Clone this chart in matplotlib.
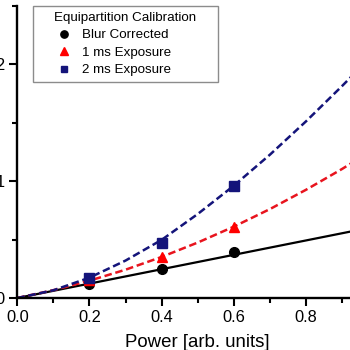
import numpy as np
import matplotlib
matplotlib.use("Agg")
import matplotlib.pyplot as plt

plt.rcParams['font.family'] = ['Liberation Sans', 'DejaVu Sans']

# measured points
power = [0.2, 0.4, 0.6]
blur_corrected = [0.12, 0.245, 0.39]
exp_1ms = [0.15, 0.353, 0.605]
exp_2ms = [0.174, 0.467, 0.96]

# fit curves
fit_x = [0.0, 0.1, 0.2, 0.3, 0.4, 0.5, 0.6, 0.7, 0.8, 0.9, 1.0]
fit_blur = [0.0, 0.0615, 0.123, 0.1845, 0.246, 0.3075, 0.369, 0.4305, 0.492, 0.5535, 0.615]
fit_1ms = [0.0, 0.067, 0.148, 0.242, 0.351, 0.474, 0.61, 0.76, 0.925, 1.103, 1.295]
fit_2ms = [0.0, 0.066, 0.174, 0.32, 0.497, 0.718, 0.96, 1.225, 1.51, 1.812, 2.125]

NAVY = '#14147a'
RED = '#e8141e'

W, H = 350, 350
fig = plt.figure(figsize=(3.5, 3.5), dpi=100)
ax = fig.add_axes([17.3 / W, 52 / H, 360.9 / W, 292.5 / H])

ax.plot(fit_x, fit_blur, color='black', lw=1.6)
ax.plot(fit_x, fit_1ms, color=RED, lw=1.8, ls=(0, (3.0, 1.5)))
ax.plot(fit_x, fit_2ms, color=NAVY, lw=1.8, ls=(0, (3.0, 1.5)))

ax.plot(power, blur_corrected, 'o', color='black', ms=7, ls='none', label='Blur Corrected')
ax.plot(power, exp_1ms, '^', color='#ff0000', ms=7.5, ls='none', label='1 ms Exposure')
ax.plot(power, exp_2ms, 's', color=NAVY, ms=6.5, ls='none', label='2 ms Exposure')

ax.set_xlim(0, 1.0)
ax.set_ylim(0, 2.5)
ax.set_xticks([0.0, 0.2, 0.4, 0.6, 0.8])
ax.set_xticks(np.arange(0.1, 1.0, 0.2), minor=True)
ax.set_yticks([0, 1, 2])
ax.set_yticks([0.5, 1.5, 2.5], minor=True)
ax.set_xticklabels(['0.0', '0.2', '0.4', '0.6', '0.8'])
ax.set_yticklabels(['0', '1', '2'])
ax.tick_params(which='major', length=6, width=1.5, labelsize=11.8, direction='out', pad=3)
ax.tick_params(which='minor', length=3.5, width=1.5, direction='out')
for s in ['top', 'right']:
    ax.spines[s].set_visible(False)
for s in ['left', 'bottom']:
    ax.spines[s].set_linewidth(1.7)

ax.set_xlabel('Power [arb. units]', fontsize=13.4, labelpad=6)

leg = ax.legend(title='Equipartition Calibration', loc='upper left',
                bbox_to_anchor=(33 / W, 1 - 81 / H, 185 / W, 75 / H),
                bbox_transform=fig.transFigure, mode='expand',
                borderaxespad=0, fontsize=9.6, title_fontsize=9.6,
                handlelength=3.7, handletextpad=-0.45, borderpad=0.45,
                labelspacing=0.38, markerscale=0.75, fancybox=False,
                edgecolor='#8c8c8c', framealpha=1)
leg.get_frame().set_linewidth(1.0)

fig.savefig('out.png', dpi=100)
